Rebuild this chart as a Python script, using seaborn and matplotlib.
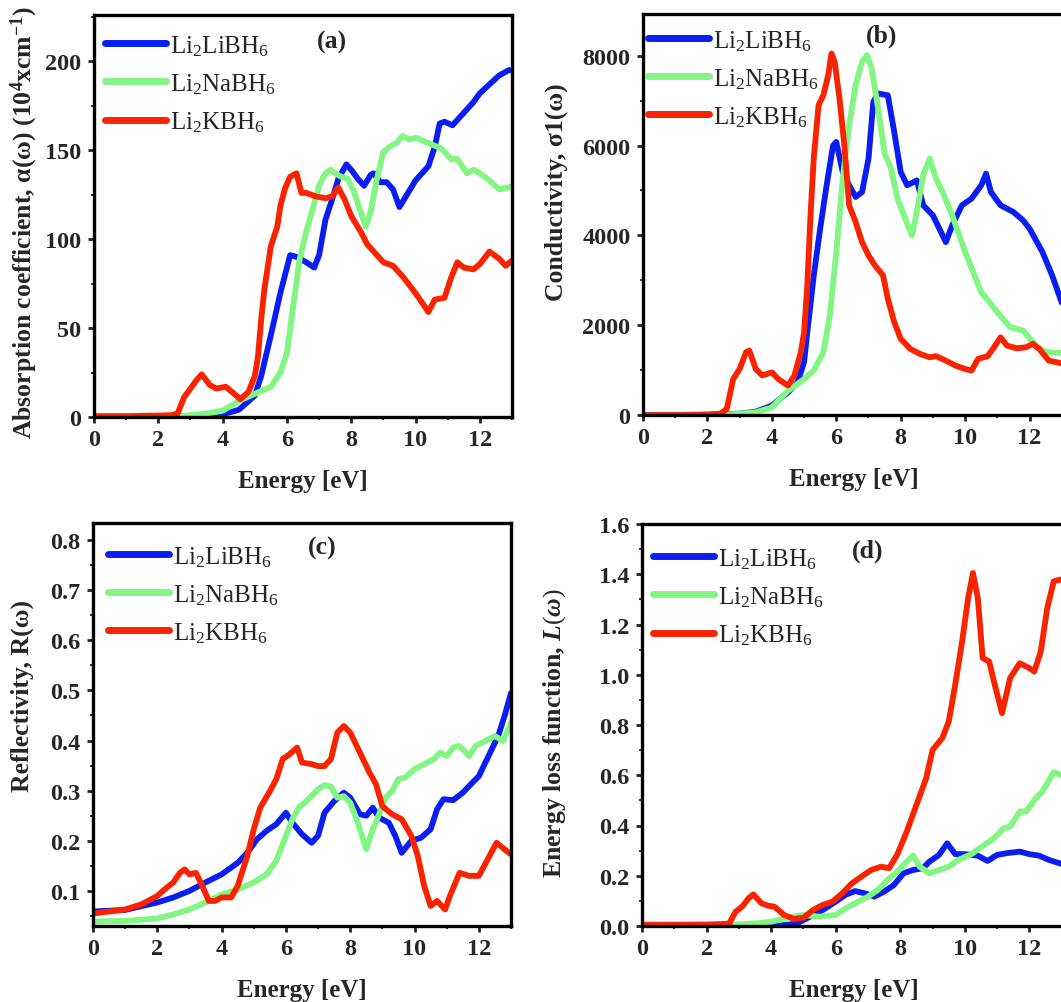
import numpy as np
import pandas as pd
import matplotlib
matplotlib.use("Agg")
import matplotlib.pyplot as plt
from matplotlib.ticker import AutoMinorLocator, FormatStrFormatter
import seaborn as sns

sns.set_style("ticks")
plt.rcParams["font.family"] = ["Liberation Serif", "DejaVu Serif"]
plt.rcParams["mathtext.fontset"] = "custom"
plt.rcParams["mathtext.rm"] = "Liberation Serif"
plt.rcParams["mathtext.it"] = "Liberation Serif:italic"
plt.rcParams["mathtext.bf"] = "Liberation Serif:bold"
if "mathtext.bfit" in plt.rcParams:
    plt.rcParams["mathtext.bfit"] = "Liberation Serif:italic:bold"

materials = ["Li2LiBH6", "Li2NaBH6", "Li2KBH6"]
legend_labels = [r"Li$_\mathrm{2}$LiBH$_\mathrm{6}$",
                 r"Li$_\mathrm{2}$NaBH$_\mathrm{6}$",
                 r"Li$_\mathrm{2}$KBH$_\mathrm{6}$"]
colors = {"Li2LiBH6": "#0A1EF2", "Li2NaBH6": "#82F582", "Li2KBH6": "#FA2300"}

# (a) absorption coefficient
e_abs_li = [0, 1, 2, 3, 3.5, 4, 4.5, 5, 5.2, 5.5, 5.8, 6.1, 6.3, 6.6, 6.85, 7.0, 7.2, 7.4, 7.6, 7.85,
            8.0, 8.2, 8.4, 8.6, 8.7, 8.9, 9.1, 9.3, 9.5, 9.7, 10.0, 10.4, 10.6, 10.75, 10.9, 11.15,
            11.4, 11.8, 12.0, 12.3, 12.6, 12.9, 13.0]
abs_li = [0, 0, 0.2, 0.5, 0.8, 1.5, 4, 12, 23, 46, 70, 91, 90, 87, 84, 91, 111, 122, 134, 142,
          139, 134, 130, 136, 137, 132, 132, 128, 118, 124, 133, 141, 152, 165, 166, 164,
          169, 177, 182, 187, 192, 195, 195]
e_abs_na = [0, 1, 2, 2.7, 3.0, 3.5, 4.0, 4.5, 5.0, 5.5, 5.8, 6.0, 6.2, 6.4, 6.6, 6.8, 7.0, 7.2, 7.35,
            7.5, 7.7, 7.9, 8.1, 8.3, 8.45, 8.6, 8.8, 9.0, 9.2, 9.4, 9.6, 9.8, 10.0, 10.4, 10.8, 11.1,
            11.3, 11.6, 11.8, 12.0, 12.3, 12.6, 12.9, 13.0]
abs_na = [0, 0, 0, 0.5, 1, 2, 3.5, 9, 13, 17, 25, 36, 63, 89, 104, 117, 130, 137, 139,
          137, 135, 134, 126, 115, 107, 115, 134, 149, 152, 154, 158, 156, 157, 154, 151, 145,
          145, 137, 139, 137, 133, 128, 129, 130]
e_abs_k = [0, 1, 2, 2.4, 2.6, 2.8, 3.0, 3.2, 3.35, 3.6, 3.8, 4.1, 4.3, 4.55, 4.8, 5.0, 5.1, 5.2, 5.3,
           5.5, 5.7, 5.8, 5.95, 6.1, 6.3, 6.45, 6.6, 6.9, 7.2, 7.4, 7.6, 7.8, 8.0, 8.3, 8.5, 8.7,
           9.0, 9.3, 9.6, 9.9, 10.1, 10.4, 10.6, 10.9, 11.1, 11.3, 11.5, 11.8, 12.0, 12.3, 12.6,
           12.8, 13.0]
abs_k = [0.5, 0.5, 0.8, 1, 2, 11, 16, 21, 24, 18, 16, 17, 14, 10, 14, 23, 34, 55, 72,
         96, 107, 119, 129, 135, 137, 126, 126, 124, 123, 124, 129, 122, 113, 104, 97, 93,
         87, 85, 79, 72, 67, 59, 66, 67, 78, 87, 84, 83, 86, 93, 89,
         85, 88]

# (b) optical conductivity
e_cond_li = [0, 1, 2, 3, 3.5, 4, 4.5, 4.8, 5.0, 5.1, 5.3, 5.5, 5.7, 5.9, 6.0, 6.2, 6.4, 6.6, 6.8,
             7.0, 7.15, 7.3, 7.6, 7.8, 8.0, 8.2, 8.5, 8.7, 9.0, 9.2, 9.4, 9.6, 9.9, 10.2, 10.5,
             10.65, 10.8, 11.1, 11.5, 11.8, 12.0, 12.4, 12.7, 13.0]
cond_li = [0, 0, 5, 30, 74, 210, 505, 730, 1175, 1840, 3100, 4150, 5115, 6000, 6080, 5410, 5115,
           4855, 4965, 5710, 6975, 7160, 7120, 6300, 5410, 5115, 5225, 4670, 4445, 4150, 3850,
           4225, 4670, 4820, 5115, 5375, 4965, 4670, 4520, 4335, 4150, 3630, 3110, 2500]
e_cond_na = [0, 1, 2, 2.6, 3.0, 3.5, 4.0, 4.5, 5.0, 5.3, 5.6, 5.8, 6.0, 6.2, 6.4, 6.6, 6.8, 6.95,
             7.1, 7.3, 7.5, 7.7, 7.9, 8.1, 8.35, 8.5, 8.7, 8.9, 9.1, 9.3, 9.6, 10.0, 10.5, 11.0,
             11.4, 11.8, 12.2, 12.5, 13.0]
cond_na = [0, 0, 0, 10, 30, 60, 170, 540, 800, 990, 1400, 2215, 3630, 5260, 6450, 7345, 7865,
           8015, 7720, 6825, 5820, 5485, 4820, 4445, 4000, 4520, 5340, 5710, 5260, 4965, 4445,
           3630, 2735, 2290, 1955, 1880, 1545, 1400, 1380]
e_cond_k = [0, 1, 2, 2.4, 2.6, 2.8, 3.0, 3.2, 3.3, 3.5, 3.7, 4.0, 4.2, 4.5, 4.7, 4.9, 5.0, 5.1,
            5.2, 5.3, 5.45, 5.6, 5.75, 5.85, 5.95, 6.1, 6.25, 6.4, 6.6, 6.8, 7.0, 7.2, 7.45, 7.6,
            7.8, 8.0, 8.3, 8.6, 8.9, 9.1, 9.4, 9.7, 10.0, 10.2, 10.4, 10.7, 10.9, 11.1, 11.3,
            11.6, 11.9, 12.1, 12.3, 12.6, 13.0]
cond_k = [0, 0, 10, 30, 135, 800, 1025, 1400, 1435, 1025, 880, 950, 800, 655, 880, 1400, 1840,
          2885, 4445, 5710, 6900, 7125, 7570, 8050, 7865, 7050, 6010, 4670, 4300, 3850, 3555,
          3330, 3110, 2590, 2065, 1695, 1470, 1360, 1285, 1310, 1210, 1100, 1025, 990, 1250,
          1310, 1510, 1730, 1545, 1485, 1510, 1585, 1470, 1210, 1150]

# (c) reflectivity
e_refl_li = [0, 1, 2, 2.5, 3, 3.5, 4, 4.5, 4.8, 5.1, 5.4, 5.7, 6.0, 6.2, 6.5, 6.8, 7.0, 7.2, 7.5,
             7.8, 8.0, 8.3, 8.5, 8.7, 8.9, 9.2, 9.4, 9.6, 9.9, 10.2, 10.5, 10.7, 10.9, 11.2, 11.5,
             11.8, 12.0, 12.3, 12.6, 12.8, 13.0]
refl_li = [0.059, 0.062, 0.077, 0.087, 0.100, 0.117, 0.133, 0.156, 0.176, 0.203, 0.220, 0.233,
           0.256, 0.236, 0.213, 0.196, 0.210, 0.256, 0.279, 0.296, 0.286, 0.253, 0.250, 0.266,
           0.246, 0.236, 0.210, 0.176, 0.200, 0.206, 0.223, 0.263, 0.283, 0.281, 0.296, 0.316,
           0.329, 0.369, 0.409, 0.449, 0.495]
e_refl_na = [0, 1, 2, 2.5, 3, 3.5, 4, 4.5, 5.0, 5.4, 5.7, 6.0, 6.2, 6.4, 6.7, 7.0, 7.2, 7.4, 7.6,
             7.8, 8.0, 8.2, 8.5, 8.7, 8.9, 9.1, 9.3, 9.5, 9.7, 10.0, 10.3, 10.6, 10.8, 11.0, 11.2,
             11.4, 11.7, 11.9, 12.2, 12.5, 12.75, 13.0]
refl_na = [0.039, 0.040, 0.045, 0.053, 0.063, 0.077, 0.093, 0.103, 0.117, 0.133, 0.160, 0.210,
           0.243, 0.266, 0.283, 0.303, 0.311, 0.308, 0.286, 0.289, 0.276, 0.243, 0.183, 0.223,
           0.253, 0.286, 0.299, 0.323, 0.326, 0.343, 0.353, 0.363, 0.376, 0.369, 0.386, 0.389,
           0.369, 0.389, 0.399, 0.409, 0.399, 0.435]
e_refl_k = [0, 1, 1.5, 2.0, 2.3, 2.5, 2.7, 2.85, 3.0, 3.2, 3.4, 3.6, 3.8, 4.0, 4.3, 4.5, 4.8, 5.0,
            5.2, 5.5, 5.7, 5.9, 6.1, 6.35, 6.5, 6.8, 7.0, 7.2, 7.4, 7.6, 7.8, 8.0, 8.3, 8.6, 8.8,
            9.0, 9.3, 9.6, 9.9, 10.1, 10.3, 10.5, 10.7, 10.95, 11.1, 11.4, 11.7, 12.0, 12.3,
            12.55, 12.8, 13.0]
refl_k = [0.055, 0.063, 0.073, 0.090, 0.107, 0.117, 0.136, 0.143, 0.133, 0.136, 0.110, 0.080,
          0.080, 0.087, 0.087, 0.110, 0.170, 0.223, 0.266, 0.299, 0.323, 0.363, 0.372, 0.386,
          0.356, 0.353, 0.349, 0.349, 0.363, 0.416, 0.429, 0.416, 0.376, 0.336, 0.313, 0.269,
          0.253, 0.243, 0.210, 0.170, 0.110, 0.070, 0.080, 0.063, 0.090, 0.136, 0.130, 0.130,
          0.166, 0.196, 0.183, 0.173]

# (d) energy loss function
e_loss_li = [0, 1, 2, 3, 4, 4.3, 4.8, 5.2, 5.6, 6.0, 6.3, 6.6, 6.9, 7.2, 7.5, 7.8, 8.1, 8.4, 8.7,
             8.9, 9.2, 9.45, 9.7, 10.0, 10.4, 10.7, 11.0, 11.3, 11.7, 12.0, 12.3, 12.6, 13.0]
loss_li = [0, 0, 0, 0, 0, 0.002, 0.01, 0.037, 0.064, 0.097, 0.124, 0.139, 0.130, 0.117, 0.137,
           0.163, 0.210, 0.223, 0.230, 0.256, 0.283, 0.329, 0.286, 0.286, 0.280, 0.259, 0.283,
           0.290, 0.296, 0.286, 0.280, 0.263, 0.247]
e_loss_na = [0, 1, 2, 2.7, 3.5, 4.0, 4.5, 5.0, 5.5, 6.0, 6.3, 6.6, 7.0, 7.3, 7.6, 7.9, 8.2, 8.4,
             8.6, 8.9, 9.2, 9.5, 9.8, 10.2, 10.6, 10.9, 11.2, 11.4, 11.7, 11.9, 12.2, 12.4, 12.75,
             13.0]
loss_na = [0, 0, 0, 0.005, 0.01, 0.017, 0.033, 0.044, 0.037, 0.044, 0.070, 0.090, 0.117, 0.143,
           0.183, 0.216, 0.256, 0.280, 0.236, 0.210, 0.223, 0.236, 0.263, 0.286, 0.323, 0.349,
           0.389, 0.396, 0.456, 0.456, 0.509, 0.535, 0.612, 0.600]
e_loss_k = [0, 1, 2, 2.5, 2.7, 2.9, 3.1, 3.3, 3.45, 3.7, 3.9, 4.1, 4.4, 4.7, 5.0, 5.3, 5.6, 5.9,
            6.2, 6.5, 6.8, 7.1, 7.4, 7.65, 7.9, 8.2, 8.5, 8.8, 9.0, 9.3, 9.5, 9.7, 9.9, 10.1,
            10.25, 10.4, 10.55, 10.75, 10.9, 11.15, 11.4, 11.7, 12.0, 12.15, 12.35, 12.55, 12.75,
            13.0]
loss_k = [0.005, 0.005, 0.006, 0.008, 0.01, 0.057, 0.077, 0.110, 0.126, 0.090, 0.081, 0.077,
          0.044, 0.028, 0.033, 0.064, 0.084, 0.097, 0.130, 0.170, 0.197, 0.223, 0.236, 0.230,
          0.283, 0.376, 0.482, 0.588, 0.701, 0.748, 0.814, 0.960, 1.120, 1.305, 1.405, 1.305,
          1.066, 1.053, 0.973, 0.847, 0.987, 1.046, 1.026, 1.013, 1.093, 1.265, 1.372, 1.380]


def long_table(series):
    parts = []
    for name, (e, v) in zip(materials, series):
        parts.append(pd.DataFrame({"Energy": e, "value": v, "material": name}))
    return pd.concat(parts, ignore_index=True)


W, H = 1061, 1003
fig = plt.figure(figsize=(W / 100, H / 100), dpi=100)


def px_axes(left, top, right, bottom):
    return fig.add_axes([left / W, 1 - bottom / H, (right - left) / W, (bottom - top) / H])


panels = [
    dict(series=[(e_abs_li, abs_li), (e_abs_na, abs_na), (e_abs_k, abs_k)],
         box=(94, 16, 512, 418), xmax=13.0, ylim=(0, 226), yticks=[0, 50, 100, 150, 200],
         fmt="%d", tag="(a)", tagpos=(0.57, 0.935),
         ylabel=r"Absorption coefficient, α(ω) (10$^\mathbf{4}$xcm$^\mathbf{-1}$)",
         ylab=(-0.128, 0.485), leg=(0.026, 0.955)),
    dict(series=[(e_cond_li, cond_li), (e_cond_na, cond_na), (e_cond_k, cond_k)],
         box=(643, 15, 1065, 416), xmax=13.1, ylim=(0, 8930),
         yticks=[0, 2000, 4000, 6000, 8000], fmt="%d", tag="(b)", tagpos=(0.565, 0.948),
         ylabel="Conductivity, σ1(ω)", ylab=(-0.178, 0.557), leg=(0.012, 0.965)),
    dict(series=[(e_refl_li, refl_li), (e_refl_na, refl_na), (e_refl_k, refl_k)],
         box=(93, 524, 511, 927), xmax=13.0, ylim=(0.030, 0.834),
         yticks=[0.1, 0.2, 0.3, 0.4, 0.5, 0.6, 0.7, 0.8], fmt="%.1f", tag="(c)",
         tagpos=(0.548, 0.94), ylabel="Reflectivity, R(ω)", ylab=(-0.14, 0.572),
         leg=(0.036, 0.948)),
    dict(series=[(e_loss_li, loss_li), (e_loss_na, loss_na), (e_loss_k, loss_k)],
         box=(642, 525, 1065, 927), xmax=13.1, ylim=(0, 1.6),
         yticks=[0.0, 0.2, 0.4, 0.6, 0.8, 1.0, 1.2, 1.4, 1.6], fmt="%.1f", tag="(d)",
         tagpos=(0.533, 0.935), ylabel=r"Energy loss function, $\mathbfit{L}(\mathbfit{\omega})$",
         ylab=(-0.175, 0.483), leg=(0.026, 0.945)),
]

for p in panels:
    ax = px_axes(*p["box"])
    df = long_table(p["series"])
    sns.lineplot(data=df, x="Energy", y="value", hue="material", hue_order=materials,
                 palette=colors, estimator=None, sort=False, lw=4.2, ax=ax,
                 solid_joinstyle="round", solid_capstyle="round")
    ax.set_xlim(0, p["xmax"])
    ax.set_ylim(*p["ylim"])
    ax.set_xticks([0, 2, 4, 6, 8, 10, 12])
    ax.set_yticks(p["yticks"])
    ax.yaxis.set_major_formatter(FormatStrFormatter(p["fmt"]))
    ax.xaxis.set_minor_locator(AutoMinorLocator(2))
    ax.yaxis.set_minor_locator(AutoMinorLocator(2))
    ax.tick_params(which="major", direction="out", length=4, width=2, labelsize=17.5, pad=5)
    ax.tick_params(which="minor", direction="out", length=2.5, width=1.3)
    for lab in ax.get_xticklabels() + ax.get_yticklabels():
        lab.set_fontweight("bold")
    for sp in ax.spines.values():
        sp.set_linewidth(2.4)
        sp.set_color("black")
    ax.set_xlabel("Energy [eV]", fontsize=18, fontweight="bold", labelpad=13)
    ax.set_ylabel(p["ylabel"], fontsize=18.5, fontweight="bold")
    ax.yaxis.set_label_coords(*p["ylab"])
    ax.text(*p["tagpos"], p["tag"], transform=ax.transAxes, fontsize=18.5, fontweight="bold",
            ha="center", va="center")
    handles, _ = ax.get_legend_handles_labels()
    for h in handles:
        h.set_linewidth(5)
        h.set_solid_capstyle("round")
    ax.legend(handles, legend_labels, loc="upper left", bbox_to_anchor=p["leg"],
              frameon=False, fontsize=18, handlelength=2.45, handletextpad=0.15,
              labelspacing=0.54, borderpad=0, borderaxespad=0)

fig.savefig("out.png", dpi=100)
